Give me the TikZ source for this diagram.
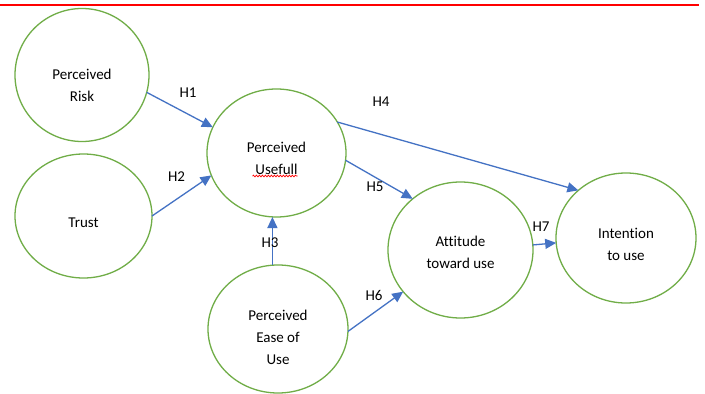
\documentclass[tikz,border=0pt]{standalone}
\usepackage{fontspec}
\setmainfont{Carlito}[Ligatures={NoCommon}]
\usetikzlibrary{shapes.geometric,arrows.meta,decorations.pathmorphing}
\definecolor{cgreen}{HTML}{70AD47}
\definecolor{cblue}{HTML}{4472C4}
\begin{document}
\begin{tikzpicture}[x=1pt,y=-1pt,
  construct/.style={ellipse, draw=cgreen, line width=1.3pt, inner sep=0pt, outer sep=0pt},
  txt/.style={align=center, font=\fontsize{15}{22}\selectfont, inner sep=0pt},
  hyp/.style={font=\fontsize{15}{18}\selectfont, inner sep=0pt},
  link/.style={draw=cblue, line width=1.3pt, -{Triangle[length=11pt,width=10pt]}}]
\useasboundingbox (0,0) rectangle (705,394);
\fill[white] (0,0) rectangle (705,394);
\draw[red, line width=1.6pt] (0,5) -- (699,5);
% constructs
\node[construct, minimum width=134pt, minimum height=133pt] (risk) at (82,75) {};
\node[construct, minimum width=137pt, minimum height=124pt] (trust) at (83.5,216) {};
\node[construct, minimum width=139pt, minimum height=128pt] (pu) at (276.5,153) {};
\node[construct, minimum width=140pt, minimum height=128pt] (peou) at (278,329) {};
\node[construct, minimum width=145pt, minimum height=136pt] (att) at (460.5,250) {};
\node[construct, minimum width=140pt, minimum height=130pt] (int) at (626,238) {};
% texts
\node[txt] (riskt) at ([yshift=-10pt]risk.center) {Perceived\\Risk};
\node[txt] (trustt) at ([yshift=-7pt]trust.center) {Trust};
\node[txt] (put) at ([yshift=-5pt]pu.center) {Perceived\\Usefull};
\node[txt] (peout) at ([yshift=-8pt]peou.center) {Perceived\\Ease of\\Use};
\node[txt] (attt) at ([yshift=-2pt]att.center) {Attitude\\toward use};
\node[txt] (intt) at ([yshift=-6pt]int.center) {Intention\\to use};
% red spell-check underline
\draw[red, line width=0.7pt, decorate, decoration={snake, amplitude=0.9pt, segment length=3pt}]
  ([xshift=-24pt,yshift=-23pt]pu.center) -- ([xshift=21pt,yshift=-23pt]pu.center);
% connectors
\draw[link] (risk.-15) -- (pu.158);
\draw[link] (trust.0) -- (pu.-161);
\draw[link] (peou.95) -- (peou.95 |- pu.south);
\draw[link] (pu.27) -- (int.135);
\draw[link] (pu.-6) -- (att.133);
\draw[link] (peou.-2) -- (att.-144);
\draw[link] (att.4) -- (int.-176);
% hypothesis labels
\node[hyp] (h1) at (188,93) {H1};
\node[hyp] (h2) at (176.5,177) {H2};
\node[hyp] (h3) at (270,243) {H3};
\node[hyp] (h4) at (381,102) {H4};
\node[hyp] (h5) at (375,187) {H5};
\node[hyp] (h6) at (374,295) {H6};
\node[hyp] (h7) at (541,227) {H7};
\end{tikzpicture}
\end{document}
